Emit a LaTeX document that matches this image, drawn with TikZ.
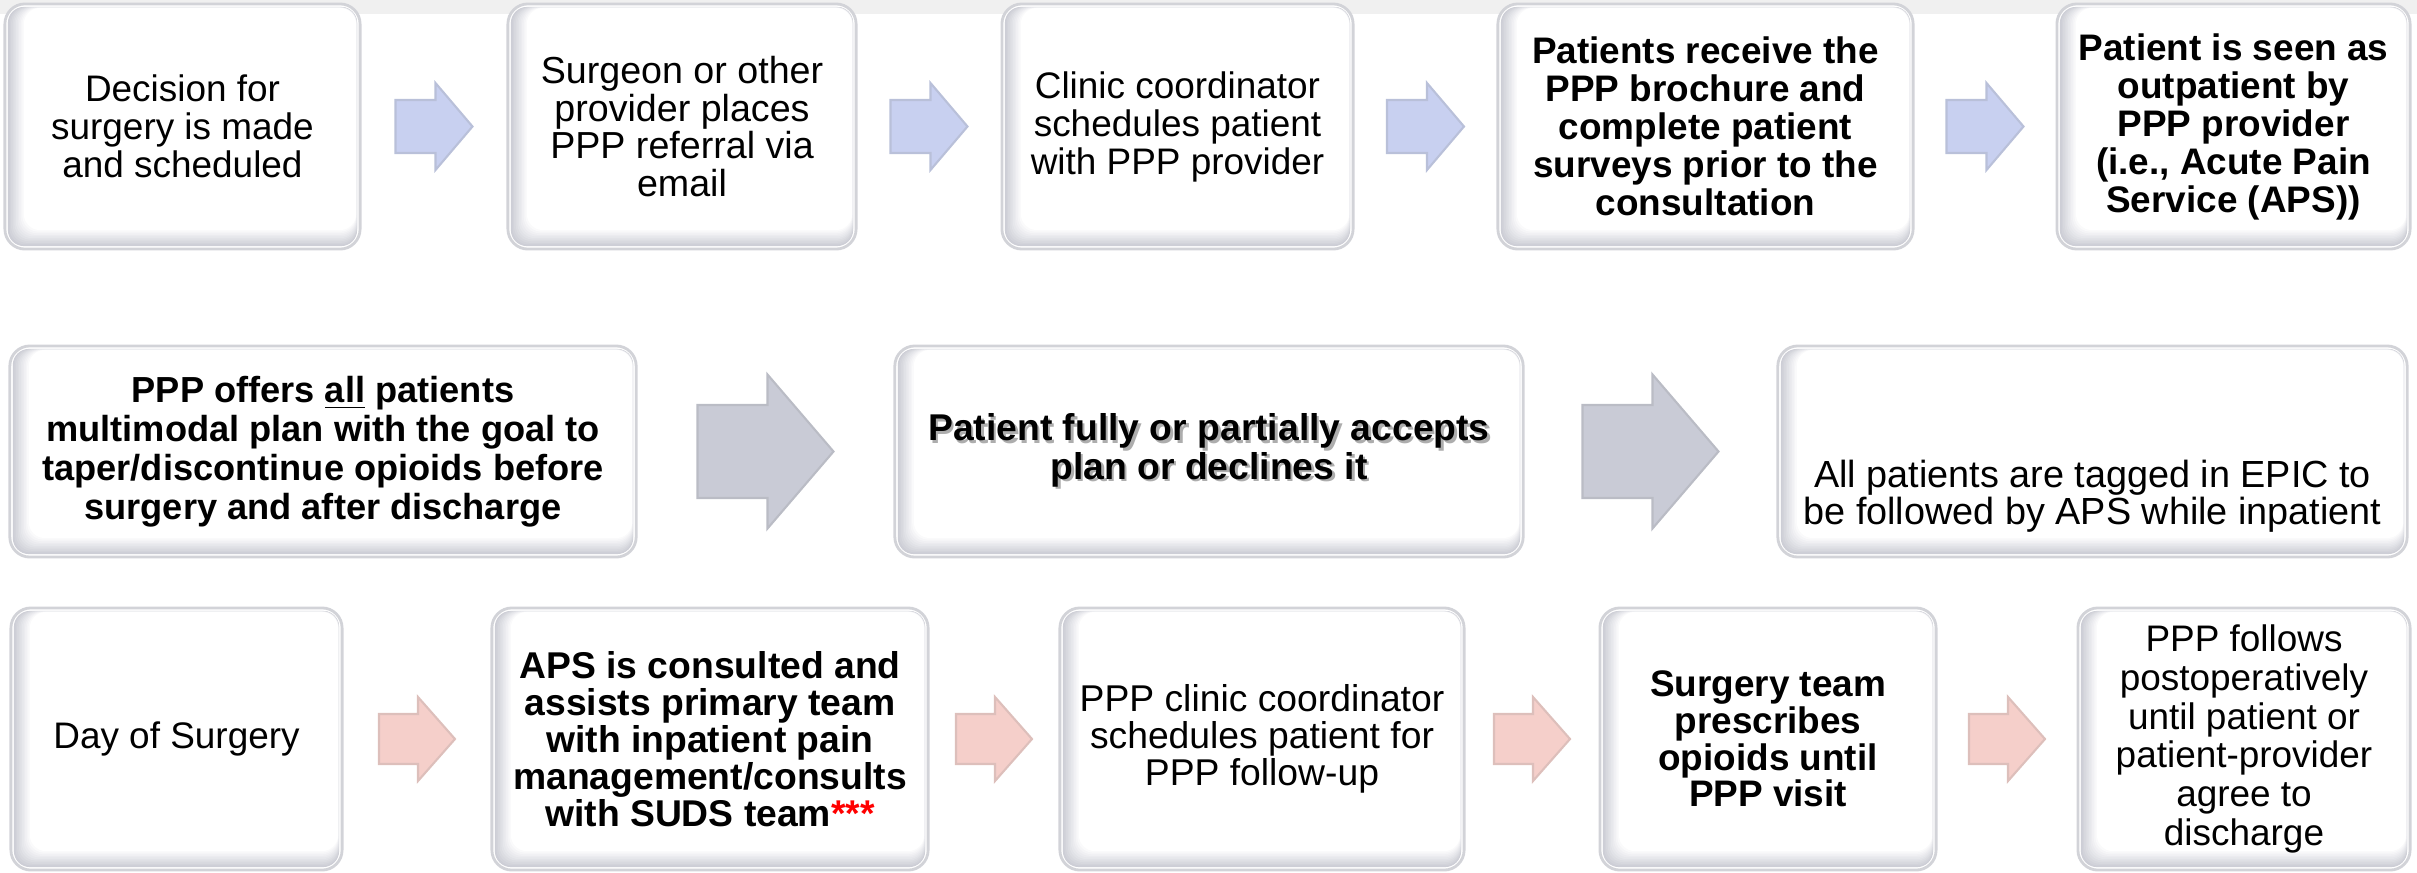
\documentclass[tikz,border=0pt]{standalone}
\usepackage{fontspec}
\setmainfont{Liberation Sans}
\usepackage{xcolor}
\usetikzlibrary{calc}

\definecolor{arrowblue}{HTML}{C8D0F0}
\definecolor{arrowgray}{HTML}{C9CBD6}
\definecolor{arrowpink}{HTML}{F5CFCA}
\definecolor{cardedge}{HTML}{D2D3D8}
\definecolor{cardshade}{HTML}{CDCED6}

% text with a soft drop shadow (one line)
\newcommand{\shadowline}[1]{\makebox[0pt][l]{\kern0.7pt\raisebox{-0.7pt}{\textcolor{black!32}{#1}}}#1}

\begin{document}
\begin{tikzpicture}[x=0.01cm, y=-0.01cm]
        % ================= styles =================
        \tikzset{
            % white rounded card, inner shadow on the left and bottom
            card/.style={rounded corners=0.2cm, draw=cardedge, line width=0.8pt, fill=white,
                align=center, inner sep=0pt,
                path picture={
                    \foreach \k in {0,...,10} {
                        \pgfmathsetmacro{\c}{100-10*\k}
                        \pgfmathsetmacro{\l}{0.03+0.016*\k}
                        \pgfmathsetmacro{\r}{0.03+0.001*\k}
                        \fill[cardshade!\c!white, rounded corners=0.16cm]
                            ($(path picture bounding box.south west)+(\l cm,\l cm)$) rectangle
                            ($(path picture bounding box.north east)-(\r cm,\r cm)$);
                    }
                }},
            row_one/.style={card, minimum height=2.45cm, font=\fontsize{10.5pt}{10.8pt}\selectfont},
            row_two/.style={card, minimum height=2.11cm, font=\fontsize{10.6pt}{11pt}\selectfont},
            row_three/.style={card, minimum height=2.62cm, font=\fontsize{10.5pt}{10.6pt}\selectfont},
            % block arrow: half length, half head width, half shaft width, head length
            pics/flowarrow/.style n args={4}{code={
                \path[pic actions] (-#1,-#3) -- (#1-#4,-#3) -- (#1-#4,-#2) -- (#1,0)
                    -- (#1-#4,#2) -- (#1-#4,#3) -- (-#1,#3) -- cycle;
            }},
            blue_arrow/.style={fill=arrowblue, draw=arrowblue!80!gray, line width=0.6pt},
            gray_arrow/.style={fill=arrowgray, draw=arrowgray!80!gray, line width=0.6pt},
            pink_arrow/.style={fill=arrowpink, draw=arrowpink!80!gray, line width=0.6pt}
        }

        \useasboundingbox (0,0) rectangle (2417,872);
        \fill[gray!12] (0,0) rectangle (2417,14);

        % ================= first row: referral =================
        \node[row_one, minimum width=3.55cm] (b1) at (182.5,126.5)
            {Decision for\\surgery is made\\and scheduled};
        \node[row_one, minimum width=3.48cm, font=\fontsize{10.7pt}{10.7pt}\selectfont] (b2) at (682,126.5)
            {Surgeon or other\\provider places\\PPP referral via\\email};
        \node[row_one, minimum width=3.51cm] (b3) at (1177.5,126.5)
            {Clinic coordinator\\schedules patient\\with PPP provider};
        \node[row_one, minimum width=4.15cm, font=\fontsize{10.5pt}{10.8pt}\selectfont\bfseries] (b4) at (1705.5,126.5)
            {Patients receive the\\PPP brochure and\\complete patient\\surveys prior to the\\consultation};
        \node[row_one, minimum width=3.53cm, font=\fontsize{10.5pt}{10.8pt}\selectfont\bfseries] (b5) at (2233.5,126.5)
            {Patient is seen as\\outpatient by\\PPP provider\\(i.e., Acute Pain\\Service (APS))};

        \pic[blue_arrow] at ($(b1.east)!0.5!(b2.west)$) {flowarrow={38.5}{43.5}{26.5}{37}};
        \pic[blue_arrow] at ($(b2.east)!0.5!(b3.west)$) {flowarrow={38.5}{43.5}{26.5}{37}};
        \pic[blue_arrow] at ($(b3.east)!0.5!(b4.west)$) {flowarrow={38.5}{43.5}{26.5}{37}};
        \pic[blue_arrow] at ($(b4.east)!0.5!(b5.west)$) {flowarrow={38.5}{43.5}{26.5}{37}};

        % ================= second row: plan =================
        \node[row_two, minimum width=6.26cm, font=\fontsize{10.3pt}{11.1pt}\selectfont\bfseries] (p1) at (323,451.5)
            {PPP offers \underline{all} patients\\multimodal plan with the goal to\\taper/discontinue opioids before\\surgery and after discharge};
        \node[row_two, minimum width=6.28cm, font=\fontsize{10.6pt}{11pt}\selectfont\bfseries] (p2) at (1209,451.5)
            {\shadowline{Patient fully or partially accepts}\\\shadowline{plan or declines it}};
        \node[row_two, minimum width=6.29cm, font=\fontsize{10.75pt}{10.5pt}\selectfont] (p3) at (2092.5,451.5)
            {\rule{0pt}{1.17cm}All patients are tagged in EPIC to\\be followed by APS while inpatient};

        \pic[gray_arrow] at ($(p1.east)!0.5!(p2.west)$) {flowarrow={68}{77}{46.5}{66}};
        \pic[gray_arrow] at ($(p2.east)!0.5!(p3.west)$) {flowarrow={68}{77}{46.5}{66}};

        % ================= third row: surgery and follow-up =================
        \node[row_three, minimum width=3.31cm] (s1) at (176.5,739)
            {Day of Surgery};
        \node[row_three, minimum width=4.36cm, font=\fontsize{10.6pt}{10.5pt}\selectfont\bfseries] (s2) at (710,739)
            {APS is consulted and\\assists primary team\\with inpatient pain\\management/consults\\with SUDS team\textcolor{red}{***}};
        \node[row_three, minimum width=4.04cm, font=\fontsize{10.6pt}{10.6pt}\selectfont] (s3) at (1262,739)
            {PPP clinic coordinator\\schedules patient for\\PPP follow-up};
        \node[row_three, minimum width=3.36cm, font=\fontsize{10.5pt}{10.4pt}\selectfont\bfseries] (s4) at (1768,739)
            {Surgery team\\prescribes\\opioids until\\PPP visit};
        \node[row_three, minimum width=3.32cm, font=\fontsize{10.5pt}{11pt}\selectfont] (s5) at (2244,739)
            {PPP follows\\postoperatively\\until patient or\\patient-provider\\agree to\\discharge};

        \pic[pink_arrow] at ($(s1.east)!0.5!(s2.west)$) {flowarrow={38}{42}{25}{37}};
        \pic[pink_arrow] at ($(s2.east)!0.5!(s3.west)$) {flowarrow={38}{42}{25}{37}};
        \pic[pink_arrow] at ($(s3.east)!0.5!(s4.west)$) {flowarrow={38}{42}{25}{37}};
        \pic[pink_arrow] at ($(s4.east)!0.5!(s5.west)$) {flowarrow={38}{42}{25}{37}};

    \end{tikzpicture}
\end{document}
